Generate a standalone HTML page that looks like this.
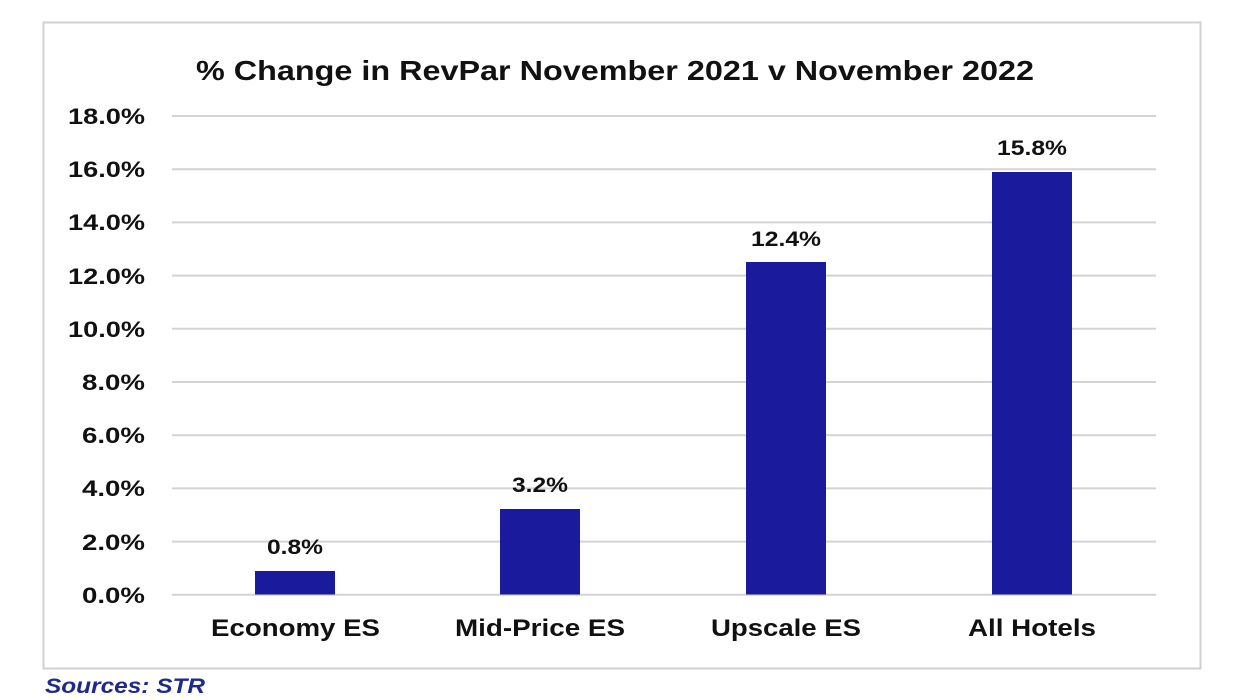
<!DOCTYPE html>
<html><head><style>body{margin:0;background:#fff}svg{display:block}</style></head><body>
<svg width="1245" height="700" viewBox="0 0 1245 700" xmlns="http://www.w3.org/2000/svg" font-family="Liberation Sans, Arial, sans-serif">
<rect x="0" y="0" width="1245" height="700" fill="#fff"/>
<rect x="43.5" y="22.5" width="1157" height="646" fill="#fff" stroke="#d0d0d0" stroke-width="2"/>
<text x="196" y="80" textLength="838" lengthAdjust="spacingAndGlyphs" font-size="28" font-weight="bold" fill="#111">% Change in RevPar November 2021 v November 2022</text>
<g stroke="#d3d3d3" stroke-width="2">
<line x1="172" x2="1156" y1="116" y2="116"/><line x1="172" x2="1156" y1="169.2" y2="169.2"/>
<line x1="172" x2="1156" y1="222.4" y2="222.4"/><line x1="172" x2="1156" y1="275.6" y2="275.6"/>
<line x1="172" x2="1156" y1="328.8" y2="328.8"/><line x1="172" x2="1156" y1="382" y2="382"/>
<line x1="172" x2="1156" y1="435.2" y2="435.2"/><line x1="172" x2="1156" y1="488.4" y2="488.4"/>
<line x1="172" x2="1156" y1="541.6" y2="541.6"/><line x1="172" x2="1156" y1="594.8" y2="594.8"/>
</g>
<g font-size="22" font-weight="bold" fill="#111" lengthAdjust="spacingAndGlyphs">
<text x="68" y="124" textLength="77" lengthAdjust="spacingAndGlyphs">18.0%</text>
<text x="68" y="177" textLength="77" lengthAdjust="spacingAndGlyphs">16.0%</text>
<text x="68" y="230" textLength="77" lengthAdjust="spacingAndGlyphs">14.0%</text>
<text x="68" y="284" textLength="77" lengthAdjust="spacingAndGlyphs">12.0%</text>
<text x="68" y="337" textLength="77" lengthAdjust="spacingAndGlyphs">10.0%</text>
<text x="82" y="390" textLength="63" lengthAdjust="spacingAndGlyphs">8.0%</text>
<text x="82" y="443" textLength="63" lengthAdjust="spacingAndGlyphs">6.0%</text>
<text x="82" y="496" textLength="63" lengthAdjust="spacingAndGlyphs">4.0%</text>
<text x="82" y="550" textLength="63" lengthAdjust="spacingAndGlyphs">2.0%</text>
<text x="82" y="603" textLength="63" lengthAdjust="spacingAndGlyphs">0.0%</text>
</g>
<g fill="#1a1a9c">
<rect x="255" y="571" width="80" height="23.5"/>
<rect x="500" y="509" width="80" height="85.5"/>
<rect x="746" y="262" width="80" height="332.5"/>
<rect x="992" y="172" width="80" height="422.5"/>
</g>
<g font-size="21" font-weight="bold" fill="#111">
<text x="267" y="554" textLength="56" lengthAdjust="spacingAndGlyphs">0.8%</text>
<text x="512" y="492" textLength="56" lengthAdjust="spacingAndGlyphs">3.2%</text>
<text x="751" y="246" textLength="70" lengthAdjust="spacingAndGlyphs">12.4%</text>
<text x="997" y="155" textLength="70" lengthAdjust="spacingAndGlyphs">15.8%</text>
</g>
<g font-size="24" font-weight="bold" fill="#111">
<text x="211" y="636" textLength="169" lengthAdjust="spacingAndGlyphs">Economy ES</text>
<text x="455" y="636" textLength="170" lengthAdjust="spacingAndGlyphs">Mid-Price ES</text>
<text x="711" y="636" textLength="150" lengthAdjust="spacingAndGlyphs">Upscale ES</text>
<text x="968" y="636" textLength="128" lengthAdjust="spacingAndGlyphs">All Hotels</text>
</g>
<text x="45" y="693" textLength="160" lengthAdjust="spacingAndGlyphs" font-size="21" font-weight="bold" font-style="italic" fill="#1e2a8a">Sources: STR</text>
</svg>
</body></html>
